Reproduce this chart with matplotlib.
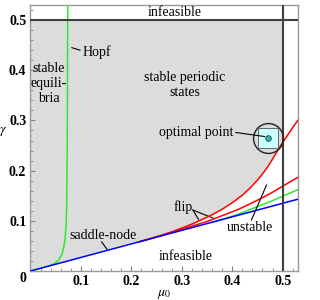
import matplotlib
matplotlib.use("Agg")
import matplotlib.pyplot as plt
import matplotlib.transforms as mtransforms
import numpy as np

plt.rcParams['font.family'] = ['Liberation Serif', 'DejaVu Serif']
plt.rcParams['mathtext.fontset'] = 'stix'

# saddle-node line (blue)
sn_mu = [0.0, 0.53]
sn_g = [0.0, 0.143]

# Hopf curve (green, left)
hopf_mu = [0.0, 0.02, 0.035, 0.0485, 0.056, 0.0618, 0.0655, 0.0683, 0.0705,
           0.0717, 0.0725, 0.0729, 0.0733, 0.0737, 0.0739]
hopf_g = [0.0, 0.0054, 0.0097, 0.0153, 0.022, 0.0319, 0.045, 0.0618, 0.09,
          0.128, 0.2, 0.261, 0.35, 0.5, 0.53]

# unstable Hopf branch (green, right)
hopf2_mu = [0.36, 0.39, 0.415, 0.448, 0.475, 0.50, 0.53]
hopf2_g = [0.0972, 0.1060, 0.1145, 0.1275, 0.138, 0.149, 0.162]

# flip curves (red)
flip1_mu = [0.2168, 0.24, 0.26, 0.28, 0.30, 0.32, 0.34, 0.36, 0.38, 0.40, 0.42,
            0.435, 0.45, 0.46, 0.47, 0.48, 0.49, 0.50, 0.51, 0.52, 0.53]
flip1_g = [0.0585, 0.0650, 0.0710, 0.0780, 0.0855, 0.0935, 0.1025, 0.1120, 0.1230,
           0.1360, 0.1510, 0.1650, 0.1810, 0.1935, 0.2070, 0.2230, 0.2400, 0.2560,
           0.2710, 0.2860, 0.3000]
flip2_mu = [0.2168, 0.26, 0.316, 0.35, 0.382, 0.415, 0.448, 0.475, 0.50, 0.53]
flip2_g = [0.0585, 0.0712, 0.0880, 0.0985, 0.1110, 0.1240, 0.1400, 0.1540, 0.1690, 0.1866]

opt_mu, opt_g = 0.4717, 0.2655

fig = plt.figure(figsize=(3.2, 3.0), dpi=100)
ax = fig.add_axes([0.0953, 0.0967, 0.8353, 0.8866])
ax.set_xlim(0, 0.53)
ax.set_ylim(0, 0.53)

# gray stable region
f1m = np.array(flip1_mu); f1g = np.array(flip1_g)
keep = f1m <= 0.5
poly_x = [sn_mu[0]] + list(f1m[keep]) + [0.5, 0.5, 0.0]
poly_y = [sn_g[0]] + list(f1g[keep]) + [f1g[keep][-1], 0.5, 0.5]
ax.fill(poly_x, poly_y, color='#dcdcdc', lw=0, zorder=0)

lw = 1.1
ax.plot(hopf_mu, hopf_g, color='#2ee82e', lw=lw, zorder=3)
ax.plot(hopf2_mu, hopf2_g, color='#2ee82e', lw=lw, zorder=3)
ax.plot(flip1_mu, flip1_g, color='#ff0000', lw=lw, zorder=3)
ax.plot(flip2_mu, flip2_g, color='#ff0000', lw=lw, zorder=3)
ax.plot(sn_mu, sn_g, color='#0000ff', lw=lw, zorder=4)

ax.axhline(0.5, color='#404040', lw=1.5, zorder=5)
ax.axvline(0.5, color='#404040', lw=1.5, zorder=5)

# optimal point markers
ax.plot([opt_mu], [opt_g], marker='o', ms=21.5, mfc='none', mec='#202020', mew=1.0, zorder=6)
ax.plot([opt_mu], [opt_g], marker='s', ms=15, mfc='#ccffff', mec='#505050', mew=0.6, zorder=6)
ax.plot([opt_mu], [opt_g], marker='o', ms=4, mfc='#33bbbb', mec='#104040', mew=0.6, zorder=7)

fs = 10
ax.text(0.285, 0.516, 'infeasible', ha='center', va='center', fontsize=fs)
ax.text(0.0366, 0.3745, 'stable\nequili-\nbria', ha='center', va='center', fontsize=fs, linespacing=1.2)
ax.text(0.132, 0.436, 'Hopf', ha='center', va='center', fontsize=fs)
ax.plot([0.082, 0.098], [0.445, 0.440], color='k', lw=0.8)
ax.text(0.305, 0.370, 'stable periodic\nstates', ha='center', va='center', fontsize=fs, linespacing=1.2)
ax.text(0.402, 0.2755, 'optimal point', ha='right', va='center', fontsize=fs)
ax.plot([0.407, 0.464], [0.276, 0.268], color='k', lw=0.8, zorder=6)
ax.text(0.302, 0.128, 'flip', ha='center', va='center', fontsize=fs)
ax.plot([0.322, 0.333], [0.1215, 0.103], color='k', lw=0.8)
ax.plot([0.322, 0.363], [0.1215, 0.105], color='k', lw=0.8)
ax.text(0.436, 0.0857, 'unstable', ha='center', va='center', fontsize=fs)
ax.plot([0.438, 0.468], [0.1016, 0.1713], color='k', lw=0.8, zorder=5)
ax.text(0.143, 0.0717, 'saddle-node', ha='center', va='center', fontsize=fs)
ax.plot([0.141, 0.152], [0.058, 0.043], color='k', lw=0.8)
ax.text(0.307, 0.0285, 'infeasible', ha='center', va='center', fontsize=fs)

xticks = [0.1, 0.2, 0.3, 0.4, 0.5]
xtick_labels = ['0.1', '0.2', '0.3', '0.4', '0.5']
yticks = [0.0, 0.1, 0.2, 0.3, 0.4, 0.5]
ytick_labels = ['0', '0.1', '0.2', '0.3', '0.4', '0.5']
ax.set_xticks(xticks)
ax.set_xticklabels(xtick_labels, fontweight='bold', fontsize=fs)
ax.set_yticks(yticks)
ax.set_yticklabels(ytick_labels, fontweight='bold', fontsize=fs)
ax.set_xticks(np.arange(0.02, 0.53, 0.02), minor=True)
ax.set_yticks(np.arange(0.02, 0.53, 0.02), minor=True)
ax.tick_params(which='both', direction='in', color='#808080')
ax.tick_params(which='major', length=3.5, width=0.8, pad=3)
ax.tick_params(which='minor', length=2, width=0.6)

# shift the "0" label slightly down as in the reference
zero_lbl = ax.get_yticklabels()[0]
zero_lbl.set_transform(zero_lbl.get_transform() +
                       mtransforms.ScaledTranslation(0, -4 / 72, fig.dpi_scale_trans))

for s in ax.spines.values():
    s.set_color('#999999')
    s.set_linewidth(1.0)

ax.set_xlabel(r'$\mu_0$', fontsize=fs, labelpad=0)
ax.set_ylabel(r'$\gamma$', fontsize=fs, rotation=0, labelpad=4)

fig.savefig('out.png', dpi=100)
